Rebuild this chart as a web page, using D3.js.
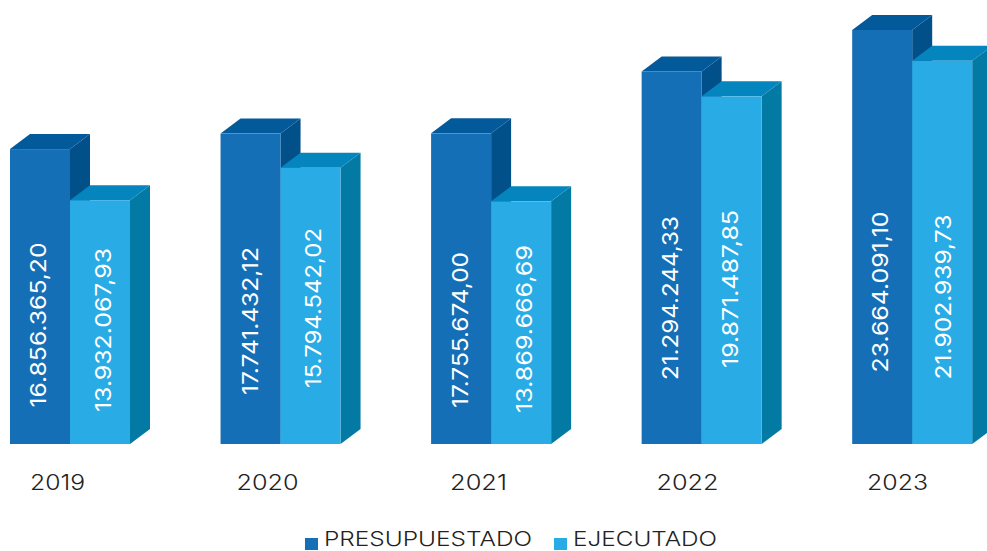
<!DOCTYPE html>
<html>
<head>
<meta charset="utf-8">
<script src="https://cdn.jsdelivr.net/npm/d3@7"></script>
<style>
html, body { margin: 0; padding: 0; background: #fff; }
svg { display: block; }
text { font-family: Inter, "Liberation Sans", sans-serif; font-weight: 300; }
</style>
</head>
<body>
<script>
var years = ["2019", "2020", "2021", "2022", "2023"];
var presupuestado = [16856365.20, 17741432.12, 17755674.00, 21294244.33, 23664091.10];
var ejecutado = [13932067.93, 15794542.02, 13869666.69, 19871487.85, 21902939.73];
var presupuestadoLabels = ["16.856.365,20", "17.741.432,12", "17.755.674,00", "21.294.244,33", "23.664.091,10"];
var ejecutadoLabels = ["13.932.067,93", "15.794.542,02", "13.869.666,69", "19.871.487,85", "21.902.939,73"];
var seriesNames = ["PRESUPUESTADO", "EJECUTADO"];

var width = 987, height = 551;
var baseY = 444, topY = 30;
var depthX = 20, depthY = 15;

var svg = d3.select("body").append("svg")
    .attr("width", width)
    .attr("height", height);

var x = d3.scaleBand().domain(years).range([10, 972.2]).paddingInner(0.43).paddingOuter(0);
var series = d3.scaleBand().domain(seriesNames).range([0, x.bandwidth()]);
var y = d3.scaleLinear().domain([0, d3.max(presupuestado)]).range([baseY, topY]);

var colors = {
    PRESUPUESTADO: {front: "#156fb7", top: "#035a9b", side: "#02508a"},
    EJECUTADO: {front: "#29abe6", top: "#0585bd", side: "#037aa3"}
};

// one entry per bar, drawn left to right so the next bar covers the side of the last
var bars = [];
years.forEach(function (yr, i) {
    bars.push({year: yr, name: seriesNames[0], value: presupuestado[i], label: presupuestadoLabels[i]});
    bars.push({year: yr, name: seriesNames[1], value: ejecutado[i], label: ejecutadoLabels[i]});
});

var g = svg.selectAll("g.bar").data(bars).enter().append("g")
    .attr("class", "bar")
    .attr("transform", function (d) { return "translate(" + (x(d.year) + series(d.name)) + ",0)"; });

var w = series.bandwidth();

g.append("path")
    .attr("fill", function (d) { return colors[d.name].side; })
    .attr("d", function (d) {
        return "M" + w + "," + y(d.value) + "l" + depthX + "," + (-depthY) +
            "V" + (baseY - depthY) + "L" + w + "," + baseY + "Z";
    });
g.append("path")
    .attr("fill", function (d) { return colors[d.name].top; })
    .attr("d", function (d) {
        return "M0," + y(d.value) + "l" + depthX + "," + (-depthY) + "h" + w + "l" + (-depthX) + "," + depthY + "Z";
    });
g.append("rect")
    .attr("fill", function (d) { return colors[d.name].front; })
    .attr("width", w)
    .attr("y", function (d) { return y(d.value); })
    .attr("height", function (d) { return baseY - y(d.value); });

// labels sit by hand in the original, so centre and length are read per bar
var labelCx = [28.5, 33, 30, 33, 29, 33, 28, 28, 28, 31];
var labelCy = [325, 330, 321, 308, 330, 329, 298, 289, 292, 297];
var labelLen = [165, 164, 148, 160, 156, 168, 164, 158, 161, 165];

g.append("text")
    .attr("transform", function (d, i) { return "translate(" + labelCx[i] + "," + labelCy[i] + ") rotate(-90)"; })
    .attr("text-anchor", "middle")
    .attr("dy", "0.36em")
    .attr("fill", "#fff")
    .style("font-weight", 400)
    .attr("font-size", 22)
    .attr("textLength", function (d, i) { return labelLen[i]; })
    .attr("lengthAdjust", "spacingAndGlyphs")
    .text(function (d) { return d.label; });

var yearCx = [57.5, 267.5, 478.5, 687.5, 897.5];
svg.selectAll("text.year").data(years).enter().append("text")
    .attr("class", "year")
    .attr("x", function (d, i) { return yearCx[i]; })
    .attr("y", 490)
    .attr("text-anchor", "middle")
    .attr("fill", "#222")
    .attr("font-size", 21)
    .attr("textLength", function (d, i) { return [55, 62, 57, 62, 61][i]; })
    .attr("lengthAdjust", "spacingAndGlyphs")
    .text(function (d) { return d; });

// legend
var legend = svg.selectAll("g.legend").data(seriesNames).enter().append("g")
    .attr("class", "legend")
    .attr("transform", function (d, i) { return "translate(" + [305, 554][i] + ",0)"; });
legend.append("rect")
    .attr("y", 538)
    .attr("width", 13)
    .attr("height", 12)
    .attr("fill", function (d) { return colors[d].front; });
legend.append("text")
    .attr("x", 19)
    .attr("y", 546)
    .attr("fill", "#222")
    .attr("font-size", 20)
    .attr("textLength", function (d, i) { return [208, 144][i]; })
    .attr("lengthAdjust", "spacingAndGlyphs")
    .text(function (d) { return d; });
</script>
</body>
</html>
